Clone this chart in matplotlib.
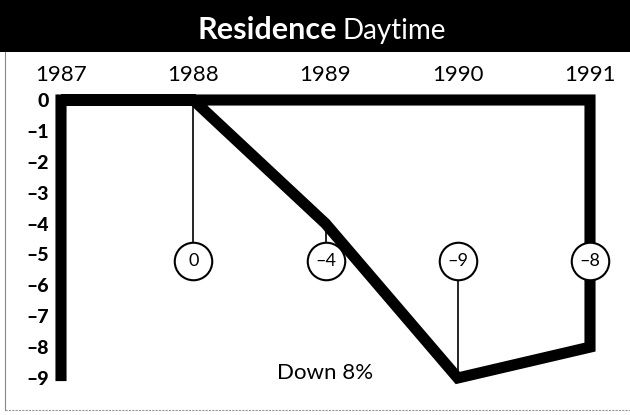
import matplotlib.pyplot as plt
from matplotlib.patches import Rectangle
from matplotlib.lines import Line2D

# Datos del gráfico (cambio porcentual, tarifa residencial diurna)
years = [1987, 1988, 1989, 1990, 1991]
change = [0, 0, -4, -9, -8]
label_years = [1988, 1989, 1990, 1991]
yticks = list(range(0, -10, -1))
note = 'Down 8%'

plt.rcParams['font.family'] = ['Lato', 'DejaVu Sans']

fig = plt.figure(figsize=(6.3, 4.15), dpi=100)
fig.patch.set_facecolor('white')

# Barra negra del título
fig.patches.append(Rectangle((0, 1 - 52 / 415), 1, 52 / 415, transform=fig.transFigure,
                             facecolor='black', edgecolor='none', zorder=0))
fig.text(0.535, 1 - 30 / 415, 'Residence', color='white', fontsize=22, fontweight='bold',
         ha='right', va='center')
fig.text(0.543, 1 - 31 / 415, 'Daytime', color='white', fontsize=20, fontweight='normal',
         ha='left', va='center')

# Marco fino del recorte
fig.lines.append(Line2D([5 / 630, 5 / 630], [1 - 52 / 415, 1 - 410 / 415], transform=fig.transFigure,
                        color='#888888', lw=0.8))
fig.lines.append(Line2D([5 / 630, 1], [1 - 410 / 415, 1 - 410 / 415], transform=fig.transFigure,
                        color='#999999', lw=0.8, ls=(0, (2, 1))))

# Ejes: 1987 en x=61px, 1991 en x=590px; 0 en y=100px, -9 en y=378px
left, right = 61 / 630, 590 / 630
top, bottom = 1 - 100 / 415, 1 - 378 / 415
ax = fig.add_axes([left, bottom, right - left, top - bottom])
ax.set_xlim(years[0], years[-1])
ax.set_ylim(-9, 0)
for s in ax.spines.values():
    s.set_visible(False)
ax.patch.set_alpha(0)

# Trazo grueso: lado izquierdo, borde superior, lado derecho y la serie
xs = [years[0], years[0], years[-1]] + years[::-1]
ys = [min(change) - 0.1, 0, 0] + change[::-1]
ax.plot(xs, ys, color='black', lw=8, solid_joinstyle='miter', solid_capstyle='butt',
        clip_on=False, zorder=3)

# Conectores finos y círculos con valores
circle_y = -5.2
for yr in label_years:
    v = change[years.index(yr)]
    ax.plot([yr, yr], [v, circle_y], color='black', lw=1.2, zorder=2, clip_on=False)
    ax.plot(yr, circle_y, marker='o', markersize=27, markerfacecolor='white',
            markeredgecolor='black', markeredgewidth=1.5, zorder=4, clip_on=False)
    txt = '0' if v == 0 else '\u2013' + str(abs(v))
    ax.text(yr, circle_y, txt, ha='center', va='center', fontsize=13, zorder=5)

ax.text(1989, -8.85, note, ha='center', va='center', fontsize=16)

# Etiquetas de años arriba
ax.xaxis.tick_top()
ax.set_xticks(years)
ax.set_xticklabels([str(y) for y in years], fontsize=16)
ax.tick_params(axis='x', length=0, pad=11)

ax.set_yticks(yticks)
ax.set_yticklabels(['0' if t == 0 else '\u2013' + str(abs(t)) for t in yticks],
                   fontsize=14, fontweight='black')
ax.tick_params(axis='y', length=0, pad=9)

fig.savefig('out.png', dpi=100)
